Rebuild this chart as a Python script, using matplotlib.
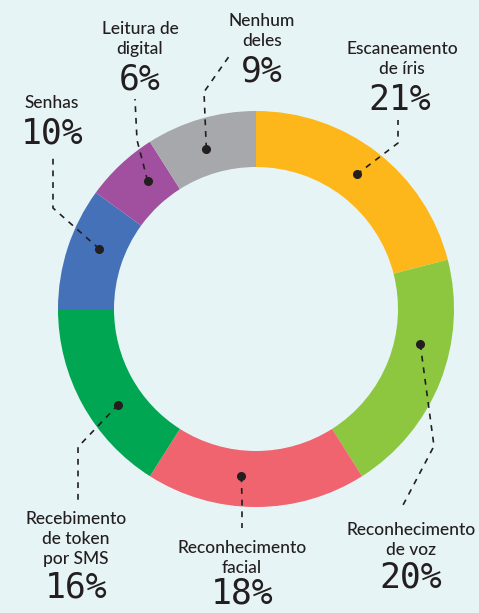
import numpy as np
import matplotlib.pyplot as plt

# survey shares (%), clockwise from 12 o'clock
labels = ['Escaneamento\nde íris', 'Reconhecimento\nde voz', 'Reconhecimento\nfacial',
          'Recebimento\nde token\npor SMS', 'Senhas', 'Leitura de\ndigital', 'Nenhum\ndeles']
values = [21, 20, 18, 16, 10, 6, 9]
colors = ['#FDB71A', '#8DC63F', '#F0646F', '#00A651', '#4471B8', '#A0509E', '#A7A8AB']

W, H = 479, 613
BG = '#E7F4F6'
INK = '#231F20'

# layout, in image pixels (y from top)
center = (256, 309)
radius = 198
ring = 56
# small angle shift (deg, ccw) of each leader dot from the wedge middle
dot_shift = [1, 9.5, -5, 6, -3, -3, 1]
# bend point and free end of each leader line
bends = [(398, 143), (434, 446), (242, 500), (78, 447), (53, 208), (137, 140), (204, 92)]
ends = [(398, 120), (402, 507), (242, 528), (78, 500), (53, 154), (135, 99), (230, 55)]
# label block centre and percent centre
name_pos = [(402, 59), (411, 540), (242, 558), (76, 539), (52, 103), (140, 39), (262, 31)]
pct_pos = [(400, 100), (411, 578), (242, 594), (76, 587), (52, 133), (140, 80), (262, 71)]


def fy(y):
    return H - y


fig = plt.figure(figsize=(W / 100, H / 100), dpi=100, facecolor=BG)
ax = fig.add_axes([0, 0, 1, 1])
ax.set_facecolor(BG)

wedges, _ = ax.pie(values, colors=colors, startangle=90, counterclock=False,
                   center=(center[0], fy(center[1])), radius=radius,
                   wedgeprops=dict(width=ring, linewidth=0))

r_dot = 168
for i, w in enumerate(wedges):
    ang = np.deg2rad((w.theta1 + w.theta2) / 2 + dot_shift[i])
    dx = center[0] + r_dot * np.cos(ang)
    dy = fy(center[1]) + r_dot * np.sin(ang)
    xs = [dx, bends[i][0], ends[i][0]]
    ys = [dy, fy(bends[i][1]), fy(ends[i][1])]
    ax.plot(xs, ys, color=INK, lw=1.2, linestyle=(0, (3.5, 3.5)))
    ax.plot(dx, dy, 'o', color=INK, ms=5.5)

    ax.text(name_pos[i][0], fy(name_pos[i][1]), labels[i], ha='center', va='center',
            fontsize=12.5, family='Lato', fontweight='medium', color=INK, linespacing=1.3)
    ax.text(pct_pos[i][0], fy(pct_pos[i][1]), f'{values[i]}%', ha='center', va='center',
            fontsize=25, family='DejaVu Sans Mono', color=INK)

ax.set_xlim(0, W)
ax.set_ylim(0, H)
ax.set_aspect('equal')
ax.axis('off')

fig.savefig('out.png', dpi=100, facecolor=BG)
